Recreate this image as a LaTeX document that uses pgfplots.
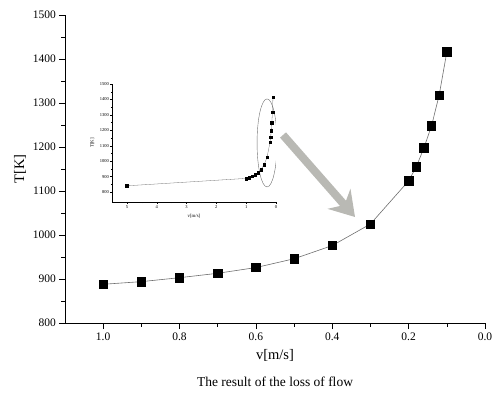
\documentclass[border=0pt]{standalone}
\usepackage{fontspec}
\setmainfont{Liberation Serif}
\usepackage{pgfplots}
\pgfplotsset{compat=1.18}
\usetikzlibrary{arrows.meta}
\definecolor{arrowgray}{RGB}{185,185,180}
\definecolor{linegray}{RGB}{110,110,110}
\begin{document}
\begin{tikzpicture}[x=1pt,y=1pt]
\useasboundingbox (-65,-73) rectangle (429,323);
\begin{axis}[at={(0,0)}, anchor=south west, scale only axis, width=420pt, height=308pt,
  x dir=reverse, xmin=0, xmax=1.1, ymin=800, ymax=1500,
  axis x line=bottom, axis y line=left, axis line style={-, line width=0.8pt, black},
  tick align=outside, major tick length=6pt, minor tick length=3.5pt,
  tick style={black, line width=0.6pt},
  xtick={0,0.2,0.4,0.6,0.8,1.0}, minor xtick={0.1,0.3,0.5,0.7,0.9},
  ytick={800,900,1000,1100,1200,1300,1400,1500}, minor ytick={850,950,1050,1150,1250,1350,1450},
  xticklabel style={/pgf/number format/fixed, /pgf/number format/fixed zerofill, /pgf/number format/precision=1},
  yticklabel style={/pgf/number format/1000 sep={}, inner sep=3pt},
  /pgf/number format/assume math mode=true,
  tick label style={font=\fontsize{11.5}{13}\selectfont},
  xlabel={v[m/s]}, ylabel={T[K]},
  label style={font=\fontsize{14.5}{16}\selectfont},
  xlabel style={at={(axis description cs:0.5,-0.104)}, anchor=center},
  ylabel style={at={(axis description cs:-0.107,0.5)}, anchor=center},
]
\addplot[linegray, line width=0.6pt, mark=square*, mark size=4.2pt, mark options={black, fill=black}] coordinates {
(1.0,888) (0.9,894) (0.8,903) (0.7,913) (0.6,926) (0.5,946) (0.4,976) (0.3,1025)
(0.2,1123) (0.18,1155) (0.16,1198) (0.14,1248) (0.12,1318) (0.1,1416)
};
\end{axis}
\begin{axis}[at={(47pt,121pt)}, anchor=south west, scale only axis, width=164pt, height=118pt,
  x dir=reverse, xmin=0, xmax=5.5, ymin=735, ymax=1500,
  axis x line=bottom, axis y line=left, axis line style={-, line width=0.4pt, black},
  tick align=outside, major tick length=2pt, minor tick length=1.2pt,
  tick style={black, line width=0.3pt},
  xtick={0,1,2,3,4,5}, minor xtick={0.5,1.5,2.5,3.5,4.5},
  xticklabels={0,1,2,3,4,5},
  ytick={800,900,1000,1100,1200,1300,1400,1500}, minor ytick={850,950,1050,1150,1250,1350,1450},
  yticklabel style={/pgf/number format/1000 sep={}},
  /pgf/number format/assume math mode=true,
  tick label style={font=\fontsize{4.5}{5}\selectfont, inner sep=1pt},
  xlabel={v[m/s]}, ylabel={T[K]},
  label style={font=\fontsize{4.8}{5}\selectfont},
  xlabel style={at={(axis description cs:0.5,-0.12)}, anchor=center},
  ylabel style={at={(axis description cs:-0.12,0.5)}, anchor=center},
]
\addplot[linegray, line width=0.3pt, mark=square*, mark size=1.3pt, mark options={black, fill=black}] coordinates {
(5,840) (1.0,888) (0.9,894) (0.8,903) (0.7,913) (0.6,926) (0.5,946) (0.4,976) (0.3,1025)
(0.2,1123) (0.18,1155) (0.16,1198) (0.14,1248) (0.12,1318) (0.1,1416)
};
\draw[linegray, line width=0.4pt] (axis cs:0.3,1118) ellipse [x radius=10pt, y radius=44pt];
\end{axis}
\draw[arrowgray, line width=8pt, -{Stealth[length=24pt, width=30pt, inset=8pt]}] (218,188) -- (290,106);
\node[font=\fontsize{13.5}{15}\selectfont] at (210,-59) {The result of the loss of flow};
\end{tikzpicture}
\end{document}
